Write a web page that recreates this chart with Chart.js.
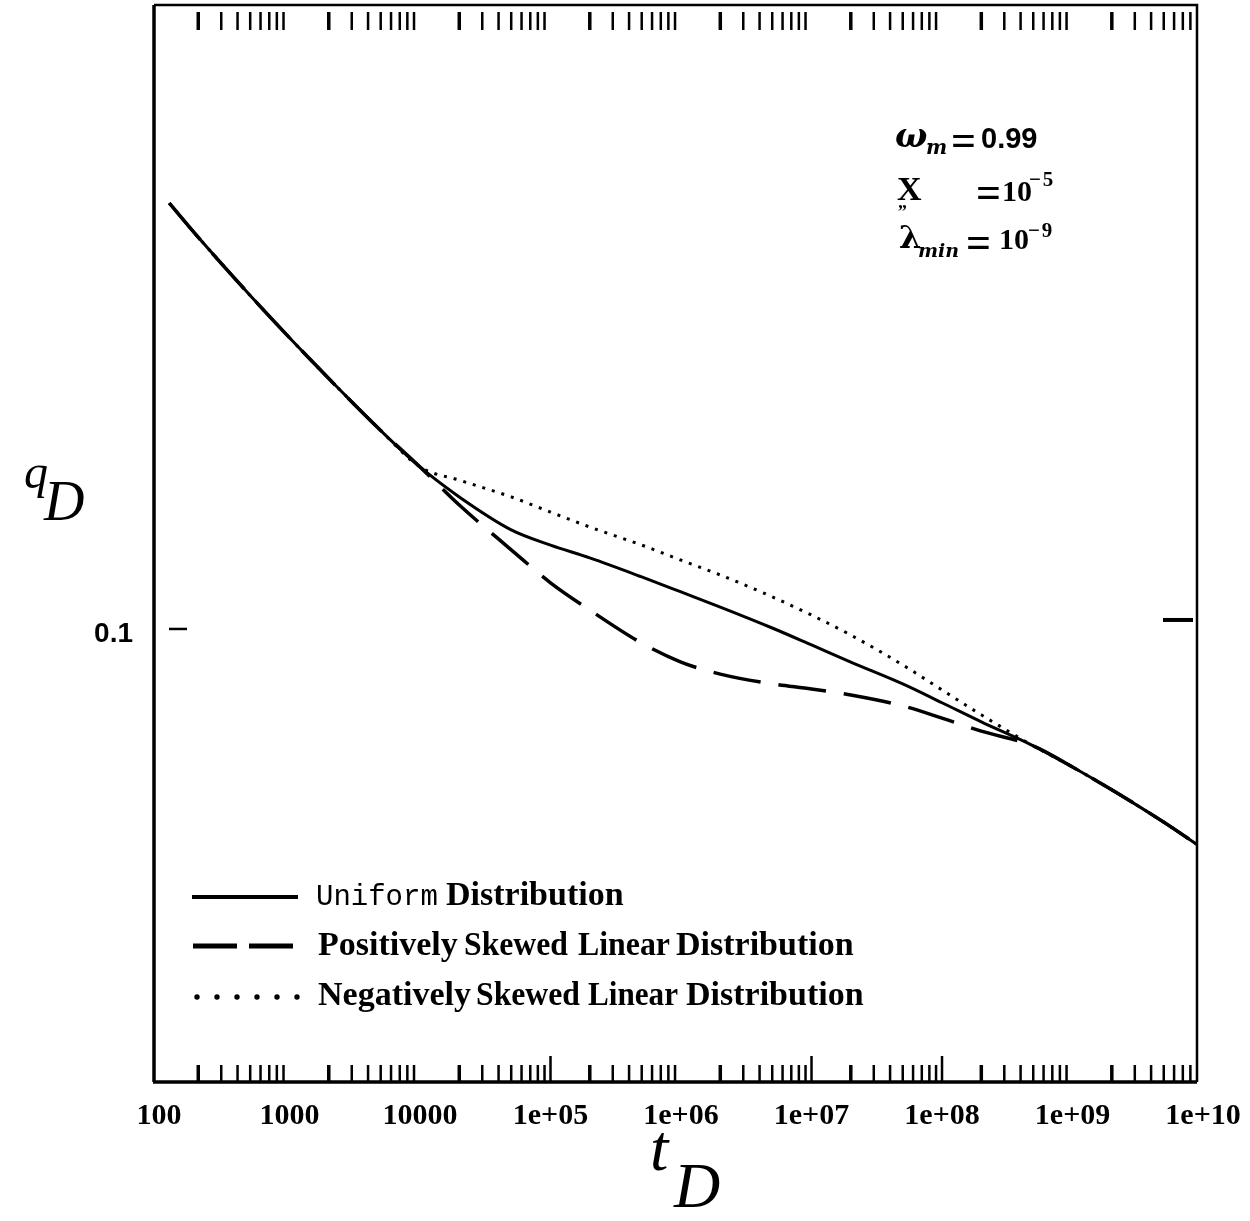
<!DOCTYPE html>
<html>
<head>
<meta charset="utf-8">
<script src="https://cdn.jsdelivr.net/npm/chart.js@4.4.0/dist/chart.umd.min.js"></script>
<style>
  html, body { margin: 0; padding: 0; background: #fff; }
  canvas { display: block; }
</style>
</head>
<body>
<canvas id="chart" width="1250" height="1221"></canvas>
<script>
// dimensionless time
const tD = [120, 200, 500, 1000, 2000, 5000, 1e4, 2e4, 5e4, 1e5, 2e5, 5e5, 1e6,
  2e6, 5e6, 1e7, 2e7, 5e7, 1e8, 2e8, 5e8, 1e9, 2e9, 5e9, 9e9];

// dimensionless rate for each fracture distribution
const qUniform = [0.2642, 0.2442, 0.2136, 0.1938, 0.1764, 0.1565, 0.1439, 0.1343,
  0.1245, 0.1202, 0.1167, 0.1117, 0.1079, 0.1042, 0.0993, 0.0955, 0.0918, 0.0873,
  0.0836, 0.0800, 0.0757, 0.0721, 0.0684, 0.0635, 0.0603];
const qPositive = [0.2642, 0.2442, 0.2136, 0.1938, 0.1764, 0.1565, 0.1439, 0.1318,
  0.1189, 0.1102, 0.1035, 0.0959, 0.0918, 0.0893, 0.0873, 0.0863, 0.0851, 0.0830,
  0.0807, 0.0783, 0.0757, 0.0721, 0.0684, 0.0635, 0.0603];
const qNegative = [0.2642, 0.2442, 0.2136, 0.1938, 0.1764, 0.1565, 0.1439, 0.1396,
  0.1343, 0.1297, 0.1253, 0.1202, 0.1161, 0.1122, 0.1067, 0.1023, 0.0977, 0.0912,
  0.0861, 0.0813, 0.0757, 0.0721, 0.0684, 0.0635, 0.0603];

const xTickValues = [1e2, 1e3, 1e4, 1e5, 1e6, 1e7, 1e8, 1e9, 1e10];
const xTickLabels = ['100', '1000', '10000', '1e+05', '1e+06', '1e+07', '1e+08', '1e+09', '1e+10'];
const xTallTicks = [1e5, 1e7, 1e8];
const yTickValues = [0.1];
const yTickLabels = ['0.1'];

const toPoints = arr => tD.map((t, i) => ({ x: t, y: arr[i] }));

// frame, ticks, labels and the legend box are drawn by hand
const framePlugin = {
  id: 'frame',
  beforeDraw(chart) {
    const ctx = chart.ctx;
    ctx.save();
    ctx.fillStyle = '#fff';
    ctx.fillRect(0, 0, chart.width, chart.height);
    ctx.restore();
  },
  afterDraw(chart) {
    const { ctx, chartArea: a, scales } = chart;
    const sx = scales.x, sy = scales.y;
    ctx.save();
    ctx.strokeStyle = '#000';
    ctx.fillStyle = '#000';
    ctx.lineCap = 'butt';

    // box
    ctx.lineWidth = 3.5;
    ctx.beginPath(); ctx.moveTo(a.left, a.top); ctx.lineTo(a.left, a.bottom); ctx.stroke();
    ctx.beginPath(); ctx.moveTo(a.left - 1, a.bottom); ctx.lineTo(a.right, a.bottom); ctx.stroke();
    ctx.lineWidth = 2.5;
    ctx.beginPath(); ctx.moveTo(a.left, a.top); ctx.lineTo(a.right, a.top); ctx.lineTo(a.right, a.bottom); ctx.stroke();

    // minor ticks 2..9 per decade, top and bottom
    for (let e = 2; e <= 9; e++) {
      for (let k = 2; k <= 9; k++) {
        const v = k * Math.pow(10, e);
        if (v > sx.max) continue;
        const px = sx.getPixelForValue(v);
        ctx.lineWidth = k === 2 ? 3.5 : 2.5;
        ctx.beginPath(); ctx.moveTo(px, a.bottom); ctx.lineTo(px, a.bottom - 17); ctx.stroke();
        ctx.beginPath(); ctx.moveTo(px, a.top + 7); ctx.lineTo(px, a.top + 25); ctx.stroke();
      }
    }
    ctx.lineWidth = 2.5;
    xTallTicks.forEach(v => {
      const px = sx.getPixelForValue(v);
      ctx.beginPath(); ctx.moveTo(px, a.bottom); ctx.lineTo(px, a.bottom - 26); ctx.stroke();
    });

    // x tick labels
    ctx.font = 'bold 30px "Liberation Serif"';
    ctx.textAlign = 'center';
    ctx.textBaseline = 'alphabetic';
    xTickValues.forEach((v, i) => {
      ctx.fillText(xTickLabels[i], sx.getPixelForValue(v), a.bottom + 42);
    });

    // y ticks
    yTickValues.forEach((v, i) => {
      const py = sy.getPixelForValue(v);
      ctx.lineWidth = 2.5;
      ctx.beginPath(); ctx.moveTo(a.left + 15, py + 4); ctx.lineTo(a.left + 33, py + 4); ctx.stroke();
      ctx.lineWidth = 4;
      ctx.beginPath(); ctx.moveTo(a.right - 34, py - 5); ctx.lineTo(a.right - 4, py - 5); ctx.stroke();
      ctx.font = 'bold 28px "Liberation Sans"';
      ctx.textAlign = 'right';
      ctx.fillText(yTickLabels[i], a.left - 21, py + 17);
    });

    // axis titles
    ctx.textAlign = 'left';
    ctx.font = 'italic 48px "Liberation Serif"';
    ctx.fillText('q', 24, 488);
    ctx.font = 'italic 56px "Liberation Serif"';
    ctx.fillText('D', 44, 520);
    ctx.font = 'italic 66px "Liberation Serif"';
    ctx.fillText('t', 650, 1170);
    ctx.font = 'italic 64px "Liberation Serif"';
    ctx.fillText('D', 674, 1207);

    // parameter block
    ctx.font = 'bold italic 34px "DejaVu Serif"';
    ctx.fillText('\u03C9', 895, 147);
    ctx.font = 'bold italic 20px "DejaVu Serif"';
    ctx.fillText('m', 926, 154);
    ctx.font = 'bold 44px "Liberation Serif"';
    ctx.fillText('=', 951, 155);
    ctx.font = 'bold 29px "Liberation Sans"';
    ctx.fillText('0.99', 981, 148);

    ctx.font = 'bold 34px "Liberation Serif"';
    ctx.fillText('X', 897, 200);
    ctx.font = 'bold 18px "Liberation Serif"';
    ctx.fillText('\u201E', 898, 208);
    ctx.font = 'bold 44px "Liberation Serif"';
    ctx.fillText('=', 976, 207);
    ctx.font = 'bold 30px "Liberation Serif"';
    ctx.fillText('10', 1002, 201);
    ctx.font = 'bold 21px "Liberation Serif"';
    ctx.fillText('\u2212\u200A5', 1029, 186);

    ctx.font = 'bold 32px "DejaVu Serif"';
    ctx.fillText('\u03BB', 899, 248);
    ctx.font = 'bold italic 19px "DejaVu Serif"';
    ctx.fillText('min', 918, 257);
    ctx.font = 'bold 44px "Liberation Serif"';
    ctx.fillText('=', 966, 257);
    ctx.font = 'bold 30px "Liberation Serif"';
    ctx.fillText('10', 999, 249);
    ctx.font = 'bold 21px "Liberation Serif"';
    ctx.fillText('\u2212\u200A9', 1028, 237);

    // legend samples
    ctx.lineWidth = 4;
    ctx.setLineDash([]);
    ctx.beginPath(); ctx.moveTo(192, 897); ctx.lineTo(298, 897); ctx.stroke();
    ctx.lineWidth = 5;
    ctx.setLineDash([44, 12]);
    ctx.beginPath(); ctx.moveTo(193, 946); ctx.lineTo(298, 946); ctx.stroke();
    ctx.setLineDash([]);
    for (let i = 0; i < 6; i++) {
      ctx.beginPath(); ctx.arc(197 + i * 20, 997, 2.7, 0, Math.PI * 2); ctx.fill();
    }

    // legend text
    const serif = 'bold 34px "Liberation Serif"';
    const words = [
      ['Uniform', '29px "Liberation Mono"', 316, 905, 0],
      ['Distribution', serif, 446, 905, 0],
      ['Positively', serif, 318, 955, 0],
      ['Skewed', serif, 464, 955, 104],
      ['Linear', serif, 578, 955, 92],
      ['Distribution', serif, 676, 955, 0],
      ['Negatively', serif, 318, 1005, 0],
      ['Skewed', serif, 476, 1005, 104],
      ['Linear', serif, 588, 1005, 90],
      ['Distribution', serif, 686, 1005, 0]
    ];
    words.forEach(([txt, font, x, y, w]) => {
      ctx.font = font;
      if (w) ctx.fillText(txt, x, y, w);
      else ctx.fillText(txt, x, y);
    });
    ctx.restore();
  }
};

new Chart(document.getElementById('chart'), {
  type: 'line',
  data: {
    datasets: [
      {
        label: 'Uniform Distribution',
        data: toPoints(qUniform),
        borderColor: '#000',
        borderWidth: 3,
        pointRadius: 0,
        cubicInterpolationMode: 'monotone'
      },
      {
        label: 'Positively Skewed Linear Distribution',
        data: toPoints(qPositive),
        borderColor: '#000',
        borderWidth: 3.5,
        borderDash: [48, 18],
        pointRadius: 0,
        cubicInterpolationMode: 'monotone'
      },
      {
        label: 'Negatively Skewed Linear Distribution',
        data: toPoints(qNegative),
        borderColor: '#000',
        borderWidth: 3,
        borderDash: [3, 7],
        pointRadius: 0,
        cubicInterpolationMode: 'monotone'
      }
    ]
  },
  options: {
    responsive: false,
    devicePixelRatio: 1,
    animation: false,
    layout: { padding: { left: 154, right: 53, top: 5, bottom: 139 } },
    plugins: {
      legend: { display: false },
      tooltip: { enabled: false }
    },
    scales: {
      x: { type: 'logarithmic', display: false, min: 91.6, max: 8.99e9 },
      y: { type: 'logarithmic', display: false, min: 0.0349, max: 0.417 }
    }
  },
  plugins: [framePlugin]
});
</script>
</body>
</html>
